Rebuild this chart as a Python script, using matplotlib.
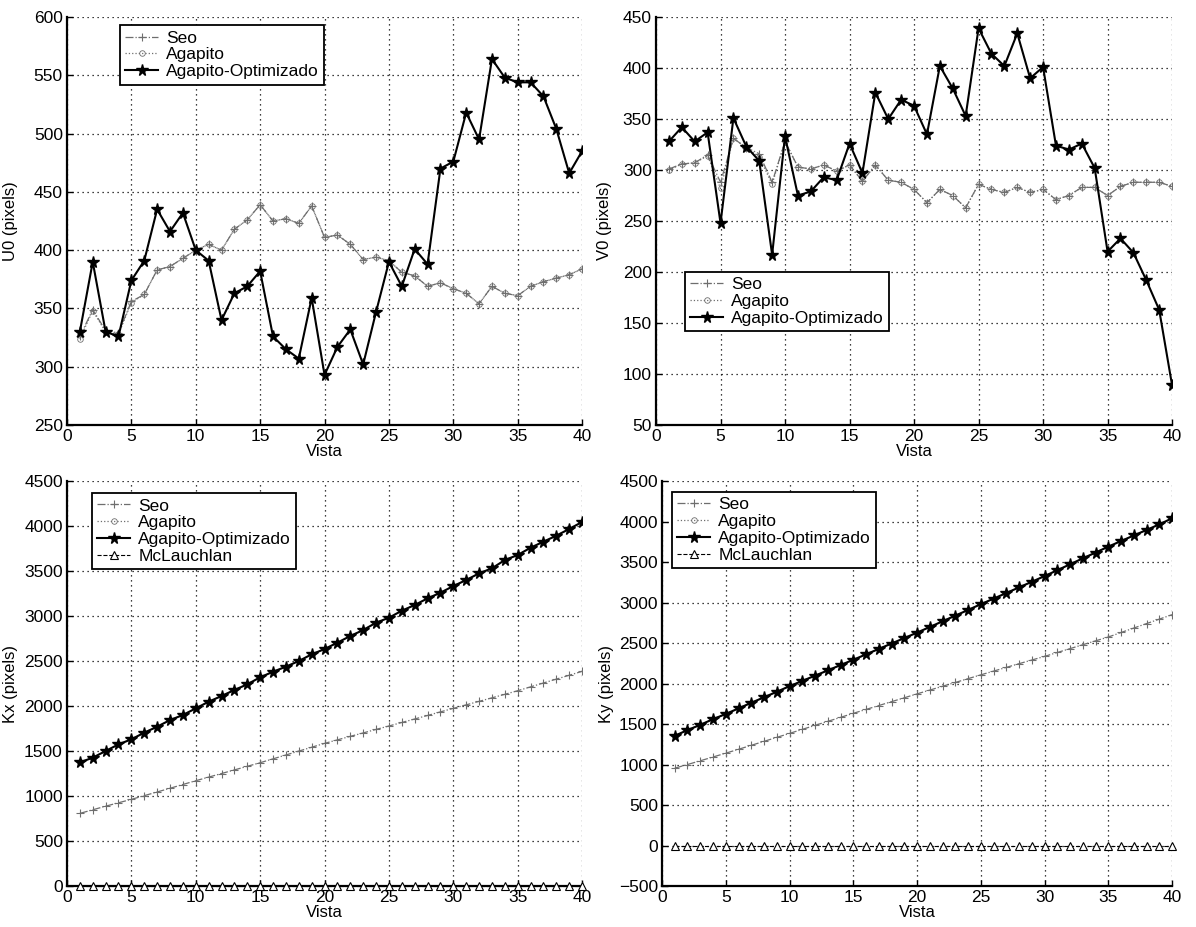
import numpy as np
import matplotlib
matplotlib.use("Agg")
import matplotlib.pyplot as plt

plt.rcParams['font.family'] = ['Liberation Sans', 'DejaVu Sans']
plt.rcParams['font.size'] = 12

vista = list(range(1, 41))

# U0 (top left)
seo_u0 = [326, 349, 331, 329, 356, 362, 383, 386, 393, 400,
          405, 400, 418, 426, 439, 425, 427, 423, 438, 411,
          413, 405, 392, 394, 391, 381, 378, 369, 372, 367,
          363, 354, 369, 363, 361, 369, 373, 376, 379, 384]
agapito_u0 = [324, 348, 330, 328, 355, 362, 383, 386, 393, 400,
              405, 400, 418, 426, 439, 425, 427, 423, 438, 411,
              413, 405, 392, 394, 391, 381, 378, 369, 372, 367,
              363, 354, 369, 363, 361, 369, 373, 376, 379, 384]
opt_u0 = [330, 390, 330, 326, 374, 391, 435, 416, 432, 400,
          391, 340, 363, 369, 382, 326, 315, 307, 359, 293,
          317, 332, 302, 347, 390, 369, 401, 388, 470, 476,
          518, 495, 564, 548, 544, 544, 532, 504, 466, 485]

# V0 (top right)
seo_v0 = [301, 306, 307, 315, 288, 331, 322, 316, 288, 328,
          303, 301, 305, 299, 305, 289, 305, 290, 288, 281,
          268, 281, 275, 263, 286, 281, 278, 283, 278, 281,
          271, 275, 283, 283, 275, 284, 288, 288, 288, 284]
agapito_v0 = [300, 306, 307, 314, 282, 331, 322, 313, 286, 328,
              303, 301, 305, 299, 305, 289, 305, 290, 288, 281,
              268, 281, 275, 263, 286, 281, 278, 283, 278, 281,
              271, 275, 283, 283, 275, 284, 288, 288, 288, 284]
opt_v0 = [328, 342, 328, 337, 248, 351, 323, 309, 217, 333,
          275, 279, 293, 290, 326, 297, 376, 350, 369, 363,
          335, 402, 380, 353, 439, 414, 402, 434, 390, 401,
          324, 320, 326, 302, 220, 233, 219, 192, 163, 89]

# Kx (bottom left)
seo_kx = [807, 847, 887, 925, 963, 1004, 1045, 1086, 1128, 1170,
          1210, 1250, 1290, 1330, 1370, 1413, 1456, 1499, 1542, 1585,
          1624, 1663, 1701, 1740, 1778, 1817, 1856, 1895, 1935, 1974,
          2013, 2052, 2091, 2130, 2170, 2213, 2256, 2299, 2342, 2385]
opt_kx = [1374, 1426, 1500, 1574, 1630, 1704, 1770, 1844, 1900, 1974,
          2048, 2111, 2178, 2241, 2319, 2381, 2437, 2500, 2574, 2633,
          2704, 2778, 2844, 2926, 2981, 3059, 3122, 3196, 3259, 3333,
          3400, 3474, 3530, 3622, 3678, 3759, 3826, 3893, 3967, 4045]
mcl_kx = [0, 0, 0, 0, 0, 0, 0, 0, 0, 0,
          0, 0, 0, 0, 0, 0, 0, 0, 0, 0,
          0, 0, 0, 0, 0, 0, 0, 0, 0, 0,
          0, 0, 0, 0, 0, 0, 0, 0, 0, 0]

# Ky (bottom right)
seo_ky = [955, 1000, 1046, 1093, 1140, 1188, 1237, 1286, 1335, 1384,
          1434, 1483, 1533, 1582, 1632, 1680, 1728, 1776, 1824, 1872,
          1919, 1966, 2013, 2060, 2107, 2153, 2199, 2245, 2290, 2335,
          2383, 2431, 2479, 2527, 2574, 2630, 2685, 2740, 2795, 2850]
opt_ky = [1355, 1425, 1490, 1560, 1624, 1693, 1762, 1830, 1898, 1967,
          2032, 2097, 2162, 2228, 2293, 2360, 2427, 2494, 2561, 2628,
          2698, 2768, 2838, 2908, 2979, 3048, 3117, 3187, 3256, 3326,
          3399, 3472, 3545, 3617, 3690, 3759, 3828, 3896, 3965, 4040]
mcl_ky = [0, 0, 0, 0, 0, 0, 0, 0, 0, 0,
          0, 0, 0, 0, 0, 0, 0, 0, 0, 0,
          0, 0, 0, 0, 0, 0, 0, 0, 0, 0,
          0, 0, 0, 0, 0, 0, 0, 0, 0, 0]

GRAY = '#6e6e6e'

fig = plt.figure(figsize=(11.96, 9.27), dpi=100)

def style_axes(ax, ylim, yticks, ylabel, label_x):
    ax.set_xlim(0, 40)
    ax.set_ylim(*ylim)
    ax.set_xticks(range(0, 41, 5))
    ax.set_yticks(yticks)
    ax.grid(True, linestyle=(0, (1, 3)), color='black', linewidth=0.9)
    ax.tick_params(direction='in', length=4, width=1, labelsize=12.5, pad=3)
    for s in ['top', 'right']:
        ax.spines[s].set_visible(False)
    for s in ['left', 'bottom']:
        ax.spines[s].set_linewidth(1.6)
    ax.set_xlabel('Vista', fontsize=12, labelpad=0)
    ax.set_ylabel(ylabel, fontsize=12)
    ax.yaxis.set_label_coords(label_x, 0.5)

def seo(ax, y):
    ax.plot(vista, y, color=GRAY, linestyle='-.', linewidth=0.9, marker='+',
            markersize=6, markeredgewidth=0.8, label='Seo', zorder=3)

def agapito(ax, y):
    ax.plot(vista, y, color=GRAY, linestyle=':', linewidth=0.9, marker='o',
            markersize=4, markerfacecolor='none', markeredgewidth=0.6,
            label='Agapito', zorder=2)

def opt(ax, y):
    ax.plot(vista, y, color='black', linestyle='-', linewidth=1.5, marker='*',
            markersize=8.5, label='Agapito-Optimizado', zorder=4)

def mcl(ax, y):
    ax.plot(vista, y, color='black', linestyle='--', linewidth=0.8, marker='^',
            markersize=6, markerfacecolor='white', markeredgewidth=0.8,
            label='McLauchlan', zorder=5, clip_on=False)

def legend(ax, x, y):
    leg = ax.legend(loc='upper left', bbox_to_anchor=(x, y), fontsize=12.5,
                    frameon=True, fancybox=False, framealpha=1, edgecolor='black',
                    borderpad=0.3, labelspacing=0.1, handlelength=1.9,
                    handletextpad=0.45, borderaxespad=0)
    leg.get_frame().set_linewidth(1.3)
    leg.set_zorder(10)

# top left
ax1 = fig.add_axes([0.056, 0.5415, 0.4307, 0.4401])
seo(ax1, seo_u0)
agapito(ax1, agapito_u0)
opt(ax1, opt_u0)
style_axes(ax1, (250, 600), range(250, 601, 50), 'U0 (pixels)', -0.095)
legend(ax1, 0.103, 0.98)

# top right
ax2 = fig.add_axes([0.5485, 0.5415, 0.4315, 0.4401])
seo(ax2, seo_v0)
agapito(ax2, agapito_v0)
opt(ax2, opt_v0)
style_axes(ax2, (50, 450), range(50, 451, 50), 'V0 (pixels)', -0.085)
legend(ax2, 0.056, 0.375)

# bottom left
ax3 = fig.add_axes([0.056, 0.0442, 0.4307, 0.4369])
seo(ax3, seo_kx)
agapito(ax3, opt_kx)
opt(ax3, opt_kx)
mcl(ax3, mcl_kx)
style_axes(ax3, (0, 4500), range(0, 4501, 500), 'Kx (pixels)', -0.095)
legend(ax3, 0.049, 0.97)

# bottom right
ax4 = fig.add_axes([0.5535, 0.0442, 0.4265, 0.4369])
seo(ax4, seo_ky)
agapito(ax4, opt_ky)
opt(ax4, opt_ky)
mcl(ax4, mcl_ky)
style_axes(ax4, (-500, 4500), range(-500, 4501, 500), 'Ky (pixels)', -0.094)
legend(ax4, 0.02, 0.973)

fig.savefig('out.png', dpi=100)
